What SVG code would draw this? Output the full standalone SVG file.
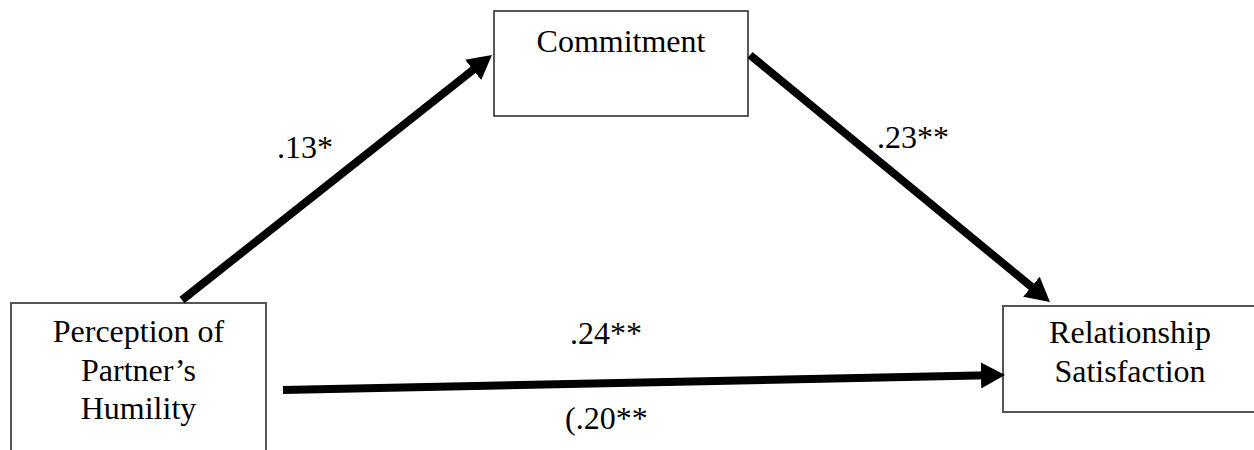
<svg xmlns="http://www.w3.org/2000/svg" width="1254" height="450" viewBox="0 0 1254 450">
  <style>
    .box { fill: #ffffff; }
    .lbl { font-family: "Liberation Serif", "Times New Roman", serif; font-size: 32px; fill: #000000; }
    .mid { text-anchor: middle; }
    .conn { stroke: #000000; stroke-width: 8; fill: none; stroke-linecap: butt; }
  </style>
  <defs>
    <marker id="ah" viewBox="0 0 24 26" markerUnits="userSpaceOnUse" markerWidth="24" markerHeight="26" refX="8" refY="13" orient="auto">
      <path d="M0,0 L24,13 L0,26 z" fill="#000000"/>
    </marker>
  </defs>
  <rect x="0" y="0" width="1254" height="450" fill="#ffffff"/>

  <g id="node-humility">
    <rect class="box" x="11" y="303" width="255" height="160" stroke="#555555" stroke-width="2"/>
    <text class="lbl mid" x="138.5" y="342">Perception of</text>
    <text class="lbl mid" x="138.5" y="381">Partner’s</text>
    <text class="lbl mid" x="138.5" y="419">Humility</text>
  </g>

  <g id="node-commitment">
    <rect class="box" x="494" y="11" width="254" height="105" stroke="#222222" stroke-width="1.5"/>
    <text class="lbl mid" x="621" y="52">Commitment</text>
  </g>

  <g id="node-satisfaction">
    <rect class="box" x="1003" y="306" width="270" height="106" stroke="#555555" stroke-width="2"/>
    <text class="lbl mid" x="1130" y="343">Relationship</text>
    <text class="lbl mid" x="1130" y="382">Satisfaction</text>
  </g>

  <g id="connectors">
    <line class="conn" x1="182" y1="300" x2="479.4" y2="64.9" marker-end="url(#ah)"/>
    <line class="conn" x1="750" y1="55" x2="1037.6" y2="291.8" marker-end="url(#ah)"/>
    <line class="conn" x1="283" y1="390" x2="989" y2="375.3" marker-end="url(#ah)"/>
  </g>

  <g id="labels">
    <text class="lbl" x="277" y="158">.13*</text>
    <text class="lbl" x="877" y="148">.23**</text>
    <text class="lbl" x="570" y="344">.24**</text>
    <text class="lbl" x="565" y="429">(.20**</text>
  </g>
</svg>
